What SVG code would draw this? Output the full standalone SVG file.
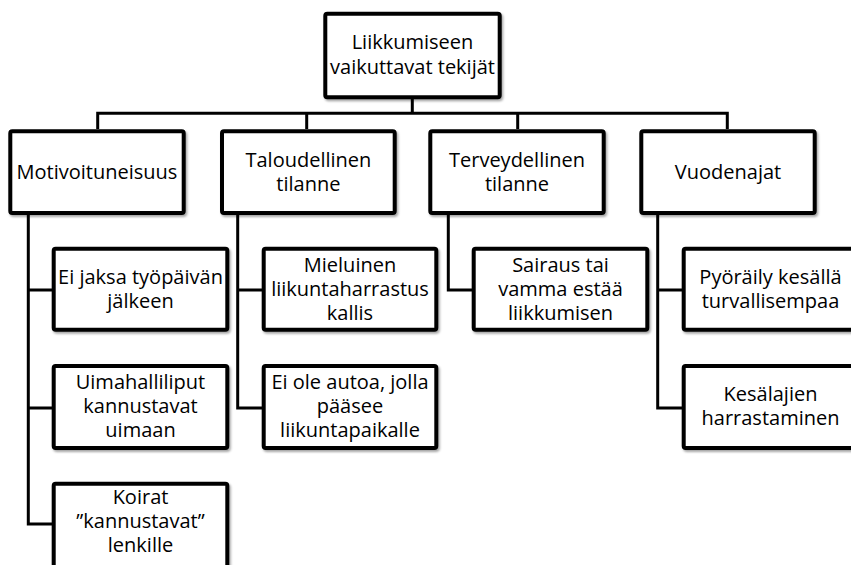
<svg xmlns="http://www.w3.org/2000/svg" width="851" height="565" viewBox="0 0 851 565">
<defs>
<filter id="sh" x="-10%" y="-10%" width="125%" height="130%">
<feDropShadow dx="1.5" dy="2" stdDeviation="1.2" flood-color="#000" flood-opacity="0.35"/>
</filter>
</defs>
<style>
.box{fill:#fff;stroke:#000;stroke-width:4;filter:url(#sh)}
.lbl{font-family:"Open Sans","Noto Sans",sans-serif;font-size:20px;fill:#000;text-anchor:middle}
.con{fill:none;stroke:#000;stroke-width:3;stroke-linejoin:miter}
</style>
<rect width="851" height="565" fill="#fff"/>
<g id="connectors">
<path class="con" d="M412.3,99 V113.3 M97.7,129 V113.3 H727.3 V129 M306.7,113.3 V129 M517.7,113.3 V129"/>
<path class="con" d="M28.3,215 V524 H54 M28.3,290 H54 M28.3,408 H54"/>
<path class="con" d="M237.7,215 V408 H264 M237.7,290 H264"/>
<path class="con" d="M448.3,215 V290 H474"/>
<path class="con" d="M657.7,215 V408 H684 M657.7,290 H684"/>
</g>
<g id="root">
<rect class="box" x="325.3" y="13.7" width="174.4" height="83.6" rx="2"/>
<text class="lbl" x="412.5" y="49"><tspan x="412.5">Liikkumiseen</tspan><tspan x="412.5" y="74">vaikuttavat tekijät</tspan></text>
</g>
<g id="motivoituneisuus">
<rect class="box" x="10.3" y="131.3" width="173.4" height="81.7" rx="2"/>
<text class="lbl" x="97" y="179">Motivoituneisuus</text>
</g>
<g id="taloudellinen">
<rect class="box" x="222" y="131.3" width="172.7" height="81.7" rx="2"/>
<text class="lbl" x="308.4" y="167"><tspan x="308.4">Taloudellinen</tspan><tspan x="308.4" y="191">tilanne</tspan></text>
</g>
<g id="terveydellinen">
<rect class="box" x="430.3" y="131.3" width="173.4" height="81.7" rx="2"/>
<text class="lbl" x="517" y="167"><tspan x="517">Terveydellinen</tspan><tspan x="517" y="191">tilanne</tspan></text>
</g>
<g id="vuodenajat">
<rect class="box" x="641.3" y="131.3" width="173.4" height="81.7" rx="2"/>
<text class="lbl" x="728" y="179">Vuodenajat</text>
</g>
<g id="ei-jaksa">
<rect class="box" x="53.7" y="248.7" width="173.6" height="81" rx="2"/>
<text class="lbl" x="140.5" y="284"><tspan x="140.5">Ei jaksa työpäivän</tspan><tspan x="140.5" y="308">jälkeen</tspan></text>
</g>
<g id="uimahalliliput">
<rect class="box" x="53.7" y="366" width="173.6" height="82" rx="2"/>
<text class="lbl" x="140.5" y="389"><tspan x="140.5">Uimahalliliput</tspan><tspan x="140.5" y="413">kannustavat</tspan><tspan x="140.5" y="437">uimaan</tspan></text>
</g>
<g id="koirat">
<rect class="box" x="53.7" y="483.7" width="173.6" height="84" rx="2"/>
<text class="lbl" x="140.5" y="504"><tspan x="140.5">Koirat</tspan><tspan x="140.5" y="528">”kannustavat”</tspan><tspan x="140.5" y="552">lenkille</tspan></text>
</g>
<g id="mieluinen">
<rect class="box" x="263.7" y="248.7" width="172.6" height="81" rx="2"/>
<text class="lbl" x="350" y="272"><tspan x="350">Mieluinen</tspan><tspan x="350" y="296">liikuntaharrastus</tspan><tspan x="350" y="320">kallis</tspan></text>
</g>
<g id="ei-ole-autoa">
<rect class="box" x="263.7" y="366" width="172.6" height="82" rx="2"/>
<text class="lbl" x="350" y="389"><tspan x="350">Ei ole autoa, jolla</tspan><tspan x="350" y="413">pääsee</tspan><tspan x="350" y="437">liikuntapaikalle</tspan></text>
</g>
<g id="sairaus">
<rect class="box" x="473.7" y="248.7" width="173.6" height="81" rx="2"/>
<text class="lbl" x="560.5" y="272"><tspan x="560.5">Sairaus tai</tspan><tspan x="560.5" y="296">vamma estää</tspan><tspan x="560.5" y="320">liikkumisen</tspan></text>
</g>
<g id="pyoraily">
<rect class="box" x="683.7" y="248.7" width="173.6" height="81" rx="2"/>
<text class="lbl" x="770.5" y="284"><tspan x="770.5">Pyöräily kesällä</tspan><tspan x="770.5" y="308">turvallisempaa</tspan></text>
</g>
<g id="kesalajien">
<rect class="box" x="683.7" y="366" width="173.6" height="82" rx="2"/>
<text class="lbl" x="770.5" y="401"><tspan x="770.5">Kesälajien</tspan><tspan x="770.5" y="425">harrastaminen</tspan></text>
</g>
</svg>
